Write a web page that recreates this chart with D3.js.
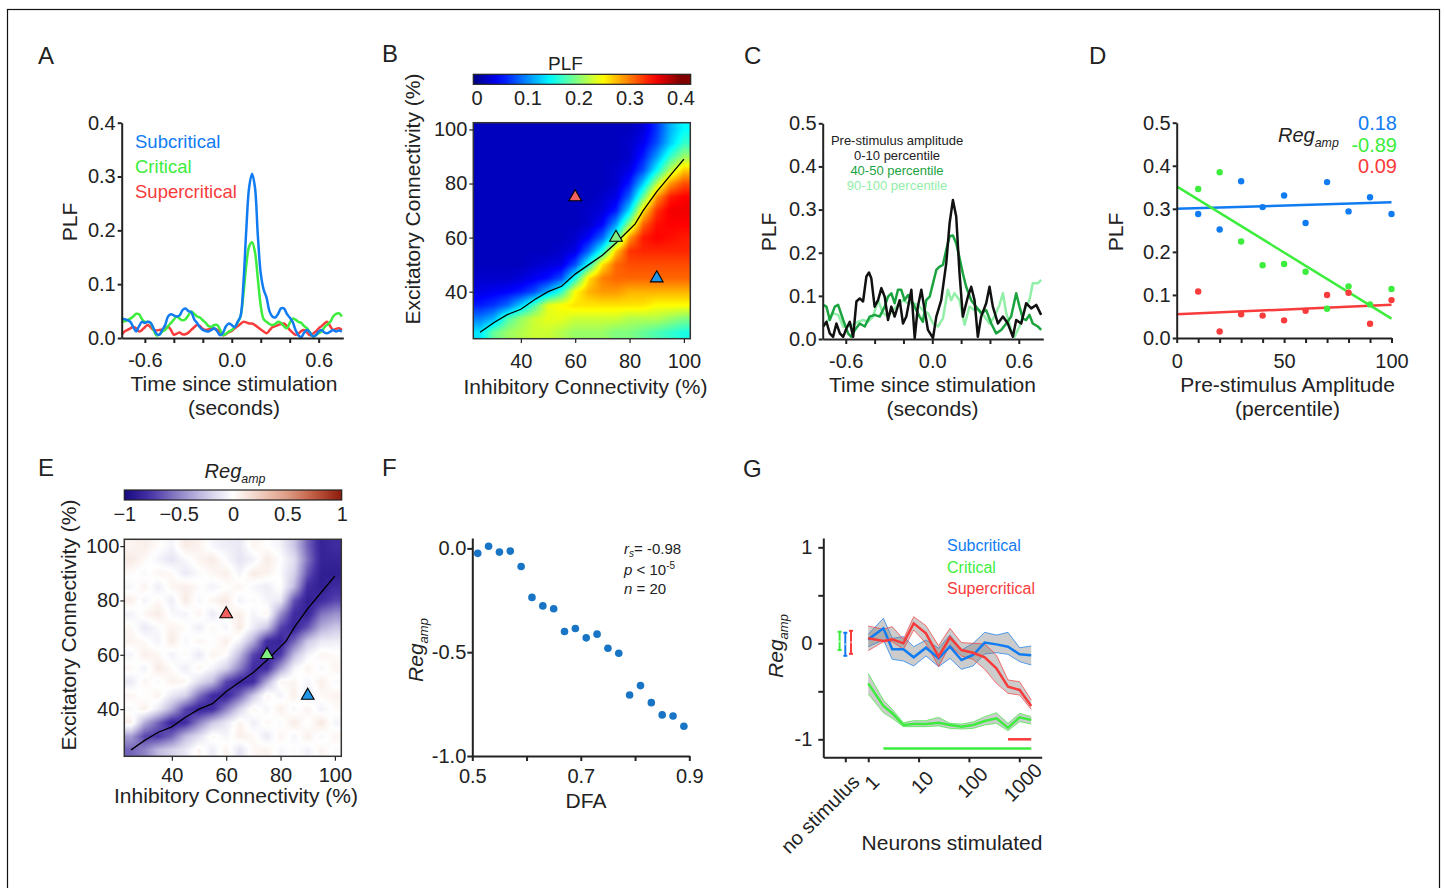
<!DOCTYPE html>
<html>
<head>
<meta charset="utf-8">
<script src="https://cdn.jsdelivr.net/npm/d3@7"></script>
<style>
  body { margin: 0; background: #fff; }
  svg text { font-family: "Liberation Sans", Arial, Helvetica, sans-serif; }
</style>
</head>
<body>
<script>
const FONT = '"Liberation Sans", Arial, Helvetica, sans-serif';
const INK = "#222";
const TICK = 20;

// ---------------- data ----------------
// A: PLF time courses per regime (sampled every 20 ms)
const timeA = d3.range(-0.76, 0.7601, 0.02);
const plfSubA = [
  0.036,0.035,0.033,0.030,0.020,0.012,0.022,0.030,0.028,0.030,
  0.028,0.018,0.008,0.006,0.015,0.024,0.040,0.044,0.042,0.040,
  0.042,0.052,0.055,0.050,0.048,0.035,0.028,0.020,0.015,0.013,
  0.012,0.015,0.018,0.012,0.005,0.010,0.022,0.027,0.024,0.020,
  0.030,0.040,0.100,0.200,0.280,0.305,0.280,0.190,0.120,0.090,
  0.075,0.050,0.040,0.038,0.045,0.055,0.055,0.045,0.038,0.030,
  0.015,0.005,0.002,0.010,0.015,0.010,0.003,0.005,0.012,0.015,
  0.010,0.009,0.012,0.015,0.012,0.014,0.012];
const plfCritA = [
  0.030,0.031,0.033,0.036,0.040,0.045,0.044,0.035,0.030,0.030,
  0.028,0.015,0.005,0.006,0.012,0.015,0.022,0.028,0.034,0.040,
  0.036,0.033,0.035,0.042,0.049,0.045,0.040,0.038,0.033,0.028,
  0.022,0.021,0.024,0.024,0.015,0.005,0.008,0.012,0.015,0.020,
  0.028,0.040,0.080,0.135,0.170,0.178,0.160,0.110,0.060,0.035,
  0.030,0.026,0.024,0.026,0.030,0.028,0.022,0.018,0.028,0.036,
  0.034,0.030,0.028,0.022,0.018,0.010,0.003,0.005,0.009,0.012,
  0.020,0.025,0.030,0.040,0.045,0.046,0.040];
const plfSuperA = [
  0.006,0.012,0.015,0.018,0.021,0.018,0.012,0.015,0.020,0.024,
  0.020,0.015,0.014,0.015,0.016,0.018,0.021,0.015,0.006,0.008,
  0.010,0.007,0.007,0.010,0.015,0.020,0.024,0.022,0.017,0.015,
  0.016,0.018,0.017,0.015,0.010,0.005,0.007,0.011,0.013,0.018,
  0.022,0.026,0.030,0.029,0.027,0.027,0.024,0.020,0.016,0.012,
  0.009,0.014,0.020,0.022,0.024,0.026,0.027,0.022,0.015,0.010,
  0.006,0.008,0.013,0.015,0.010,0.005,0.008,0.012,0.018,0.022,
  0.027,0.030,0.022,0.015,0.017,0.018,0.015];
const regimeNames = ["Subcritical", "Critical", "Supercritical"];
const regimeColors = ["#117cf2", "#3ded3d", "#f83b3b"];

// B and E: 16 x 16 grids, rows E = 100 ... 25, columns I = 25 ... 100
const connLevels = [25,30,35,40,45,50,55,60,65,70,75,80,85,90,95,100];
const plfGrid = [
  [.025,.025,.025,.025,.025,.025,.025,.025,.025,.025,.025,.025,.035,.07,.12,.15],
  [.025,.025,.025,.025,.025,.025,.025,.025,.025,.025,.025,.03,.045,.08,.13,.17],
  [.025,.025,.025,.025,.025,.025,.025,.025,.025,.025,.025,.03,.06,.11,.17,.21],
  [.025,.025,.025,.025,.025,.025,.025,.025,.025,.025,.03,.04,.08,.15,.22,.27],
  [.025,.025,.025,.025,.025,.025,.025,.025,.025,.025,.03,.06,.13,.22,.29,.32],
  [.025,.025,.025,.025,.025,.025,.025,.025,.025,.03,.04,.09,.19,.29,.34,.35],
  [.025,.025,.025,.025,.025,.025,.025,.025,.03,.035,.06,.14,.26,.33,.355,.355],
  [.025,.025,.025,.025,.025,.025,.025,.025,.03,.05,.11,.21,.31,.345,.35,.35],
  [.025,.025,.025,.025,.025,.025,.025,.03,.05,.09,.17,.29,.34,.35,.345,.34],
  [.025,.025,.025,.025,.025,.025,.03,.04,.09,.16,.27,.33,.335,.335,.335,.335],
  [.025,.025,.025,.025,.03,.035,.04,.08,.16,.26,.31,.32,.32,.32,.32,.32],
  [.03,.03,.03,.035,.045,.055,.08,.16,.26,.30,.31,.31,.31,.31,.31,.31],
  [.04,.045,.05,.06,.08,.12,.17,.25,.28,.29,.29,.28,.28,.28,.28,.28],
  [.06,.07,.09,.13,.18,.24,.25,.26,.26,.26,.26,.26,.26,.25,.25,.25],
  [.10,.12,.18,.21,.23,.24,.24,.23,.23,.23,.23,.22,.22,.22,.21,.20],
  [.14,.19,.21,.22,.23,.23,.22,.21,.21,.21,.20,.20,.19,.18,.17,.16]];
const regGrid = [
  [0.05,0.08,0.02,-0.05,0.1,0.06,-0.04,-0.08,-0.1,0.05,0,-0.05,-0.25,-0.6,-0.85,-0.8],
  [0.1,0.03,-0.05,-0.12,-0.03,0.05,0.1,-0.02,-0.12,-0.06,0.1,0,-0.15,-0.55,-0.85,-0.85],
  [0.02,-0.03,0.05,0.03,-0.1,-0.02,0.04,0.08,-0.05,0.1,0.06,-0.02,-0.2,-0.65,-0.88,-0.88],
  [-0.04,0.06,-0.08,0.05,0.08,0.02,-0.06,0,0.05,-0.04,-0.08,0.02,-0.3,-0.8,-0.88,-0.8],
  [0.08,-0.05,0.03,-0.08,0.1,-0.04,0.05,0.1,-0.06,0.03,-0.05,-0.1,-0.65,-0.88,-0.8,-0.7],
  [-0.06,0.04,0.1,-0.03,-0.05,0.06,-0.1,0.03,0.08,-0.05,0.05,-0.45,-0.8,-0.85,-0.55,-0.45],
  [0.03,-0.1,-0.02,0.06,0.02,-0.08,0.04,-0.05,0.1,-0.08,-0.25,-0.7,-0.85,-0.65,-0.35,-0.25],
  [0.06,0.02,-0.06,0.1,-0.04,0.05,-0.02,0.08,-0.06,-0.35,-0.8,-0.85,-0.6,-0.25,-0.1,-0.08],
  [-0.05,0.08,0.04,-0.06,0.03,-0.1,0.06,0,-0.3,-0.7,-0.85,-0.75,-0.3,-0.05,0.05,0.02],
  [0.04,-0.06,0.1,0.02,-0.08,0.05,-0.05,-0.2,-0.5,-0.8,-0.8,-0.4,-0.05,0.06,-0.04,0.05],
  [-0.1,0.05,-0.03,0.07,0.04,-0.15,-0.3,-0.7,-0.85,-0.8,-0.35,0.04,0.05,-0.05,0.08,-0.03],
  [0.05,-0.02,0.06,-0.1,-0.2,-0.55,-0.8,-0.85,-0.6,-0.25,0.05,-0.06,0.08,-0.1,0.03,0.06],
  [-0.03,0.08,-0.1,-0.35,-0.7,-0.85,-0.8,-0.5,-0.2,0.05,-0.05,0.08,-0.04,0.06,-0.06,0.02],
  [0.08,-0.35,-0.6,-0.85,-0.8,-0.5,-0.25,-0.1,0.06,-0.08,0.04,-0.03,0.1,-0.02,0.12,-0.05],
  [-0.4,-0.7,-0.75,-0.6,-0.3,-0.15,0.04,-0.05,0.08,0.03,-0.1,0.06,-0.05,0.08,-0.04,0.05],
  [-0.6,-0.5,-0.3,-0.2,-0.1,0.05,-0.08,0.06,-0.12,0.04,0.06,-0.04,0.02,-0.06,0.05,-0.02]];
// critical line [inhibitory, excitatory]
const critLine = [[25,25],[30,28.5],[35,31.5],[40,33.5],[45,37],[50,40],[55,42],[60,46.5],
  [65,50],[70,53.5],[75,58],[80,63],[82,65],[85,70],[90,77],[95,83],[100,89]];
const markerI = [60, 75, 90];
const markerE = [75, 60, 45];
const markerColors = ["#f26060", "#80ee80", "#1f96e8"];

// C: PLF by pre-stimulus amplitude bin, [time, PLF]
const plfLowC = [[-0.757,0.029],[-0.734,0.04],[-0.711,0.013],[-0.688,0.005],[-0.665,0.036],[-0.641,0.013],
  [-0.618,0.005],[-0.595,0.025],[-0.572,0.04],[-0.549,0.005],[-0.526,0.087],[-0.503,0.094],[-0.48,0.087],
  [-0.457,0.145],[-0.439,0.154],[-0.423,0.141],[-0.4,0.075],[-0.376,0.09],[-0.353,0.118],[-0.33,0.098],
  [-0.307,0.044],[-0.284,0.075],[-0.261,0.052],[-0.226,0.09],[-0.203,0.036],[-0.18,0.052],[-0.145,0.114],
  [-0.122,0.002],[-0.1,0.075],[-0.076,0.114],[-0.053,0.067],[-0.03,0.021],[0.005,0.002],[0.028,0.052],
  [0.062,0.09],[0.097,0.176],[0.12,0.268],[0.143,0.322],[0.166,0.284],[0.189,0.152],[0.212,0.052],
  [0.247,0.098],[0.27,0.121],[0.293,0.09],[0.316,0.005],[0.339,0.052],[0.374,0.083],[0.397,0.121],
  [0.42,0.075],[0.455,0.036],[0.49,0.052],[0.524,0.036],[0.559,0.005],[0.582,0.044],[0.617,0.036],
  [0.651,0.083],[0.686,0.071],[0.721,0.079],[0.755,0.056]];
const plfMidC = [[-0.757,0.079],[-0.734,0.075],[-0.711,0.044],[-0.676,0.075],[-0.653,0.079],[-0.618,0.044],
  [-0.584,0.013],[-0.561,0.005],[-0.537,0.021],[-0.503,0.036],[-0.468,0.029],[-0.434,0.052],[-0.4,0.056],
  [-0.365,0.052],[-0.33,0.075],[-0.307,0.098],[-0.284,0.106],[-0.261,0.083],[-0.238,0.114],[-0.215,0.114],
  [-0.192,0.09],[-0.168,0.102],[-0.134,0.083],[-0.111,0.067],[-0.088,0.052],[-0.065,0.04],[-0.042,0.09],
  [-0.018,0.098],[0.005,0.129],[0.028,0.16],[0.051,0.168],[0.074,0.172],[0.097,0.207],[0.12,0.238],
  [0.143,0.24],[0.166,0.222],[0.189,0.188],[0.212,0.152],[0.235,0.121],[0.27,0.09],[0.304,0.075],
  [0.339,0.06],[0.374,0.067],[0.409,0.036],[0.443,0.013],[0.478,0.021],[0.513,0.036],[0.547,0.052],
  [0.582,0.106],[0.605,0.075],[0.628,0.048],[0.651,0.044],[0.674,0.056],[0.697,0.036],[0.732,0.029],
  [0.755,0.021]];
const plfHighC = [[-0.757,0.029],[-0.722,0.044],[-0.688,0.06],[-0.653,0.056],[-0.618,0.029],[-0.584,0.029],
  [-0.549,0.033],[-0.515,0.04],[-0.48,0.044],[-0.445,0.04],[-0.411,0.052],[-0.376,0.09],[-0.342,0.06],
  [-0.307,0.052],[-0.273,0.067],[-0.238,0.079],[-0.203,0.09],[-0.168,0.083],[-0.134,0.083],[-0.1,0.079],
  [-0.065,0.067],[-0.03,0.06],[0.005,0.036],[0.039,0.029],[0.074,0.048],[0.108,0.114],[0.131,0.09],
  [0.154,0.106],[0.189,0.09],[0.224,0.033],[0.258,0.075],[0.293,0.067],[0.328,0.067],[0.362,0.052],
  [0.397,0.036],[0.432,0.052],[0.466,0.079],[0.49,0.106],[0.513,0.06],[0.547,0.021],[0.57,0.005],
  [0.605,0.029],[0.64,0.067],[0.674,0.09],[0.697,0.129],[0.732,0.129],[0.755,0.137]];
const binLabels = ["0-10 percentile", "40-50 percentile", "90-100 percentile"];
const binColors = ["#111111", "#1ba33f", "#92efa8"];

// D: PLF vs pre-stimulus amplitude
const pctD = [10,20,30,40,50,60,70,80,90,100];
const plfSubD = [0.288,0.252,0.364,0.304,0.331,0.267,0.362,0.294,0.327,0.288];
const plfCritD = [0.346,0.385,0.224,0.169,0.172,0.154,0.068,0.120,0.078,0.114];
const plfSuperD = [0.108,0.015,0.055,0.052,0.041,0.063,0.100,0.105,0.033,0.088];
const fitInterceptD = [0.300, 0.352, 0.055];
const fitSlopeD = [0.00015, -0.00307, 0.00022];
const regValuesD = ["0.18", "-0.89", "0.09"];

// F: Reg_amp vs DFA
const dfaF = [0.51,0.53,0.55,0.57,0.59,0.61,0.63,0.65,0.67,0.69,0.71,0.73,0.75,0.77,0.79,0.81,0.83,0.85,0.87,0.89];
const regF = [-0.024,0.010,-0.018,-0.013,-0.087,-0.236,-0.277,-0.291,-0.400,-0.386,
  -0.431,-0.413,-0.481,-0.505,-0.706,-0.661,-0.743,-0.802,-0.807,-0.857];

// G: Reg_amp vs number of stimulated neurons
const neuronsG = [1,2,3,5,8,14,25,42,71,121,206,351,597,1016,1728];
const regSubG = [0.041,0.156,-0.063,-0.063,-0.146,-0.046,-0.157,-0.035,-0.174,-0.122,0.007,-0.011,-0.035,-0.115,-0.125];
const regSubHiG = [0.094,0.26,0.052,0.069,-0.035,0.034,-0.052,0.086,-0.07,0,0.114,0.086,0.114,-0.046,-0.028];
const regSubLoG = [-0.035,0.034,-0.167,-0.184,-0.236,-0.132,-0.243,-0.157,-0.271,-0.236,-0.111,-0.098,-0.115,-0.191,-0.226];
const regCritG = [-0.417,-0.653,-0.729,-0.851,-0.841,-0.841,-0.827,-0.851,-0.868,-0.851,-0.81,-0.782,-0.879,-0.771,-0.799];
const regCritHiG = [-0.313,-0.591,-0.688,-0.827,-0.806,-0.806,-0.771,-0.834,-0.841,-0.82,-0.764,-0.723,-0.834,-0.729,-0.764];
const regCritLoG = [-0.528,-0.723,-0.782,-0.868,-0.868,-0.868,-0.861,-0.886,-0.893,-0.886,-0.851,-0.834,-0.91,-0.816,-0.841];
const regSuperG = [0.052,0.024,0.041,0,0.208,0.104,-0.139,0.062,-0.07,-0.098,-0.146,-0.261,-0.452,-0.486,-0.653];
const regSuperHiG = [0.18,0.146,0.173,0.041,0.277,0.184,-0.025,0.156,0.007,0,-0.007,-0.122,-0.382,-0.4,-0.591];
const regSuperLoG = [-0.077,0.017,0.017,-0.063,0.139,0,-0.243,-0.018,-0.132,-0.167,-0.271,-0.417,-0.521,-0.539,-0.688];
const noStimMean = [0.02, -0.01, 0.01];     // critical, subcritical, supercritical
const noStimLo = [-0.07, -0.13, -0.11];
const noStimHi = [0.12, 0.11, 0.13];
const noStimColors = ["#3ded3d", "#117cf2", "#f83b3b"];
const sigCritG = [2, 1728];
const sigSuperG = [597, 1728];

// ---------------- helpers ----------------
const svg = d3.select("body").append("svg")
  .attr("width", 1444).attr("height", 888);

svg.append("rect")
  .attr("x", 7.5).attr("y", 9.5).attr("width", 1432).attr("height", 900)
  .attr("fill", "none").attr("stroke", "#111").attr("stroke-width", 1.2);

function styleAxis(g, fs, sw) {
  g.attr("font-family", FONT).attr("font-size", fs).attr("color", INK);
  g.select(".domain").attr("stroke-width", sw);
  g.selectAll(".tick line").attr("stroke-width", sw);
  return g;
}

function label(txt, x, y, opts = {}) {
  const t = svg.append("text")
    .attr("x", x).attr("y", y)
    .attr("font-size", opts.size || 21)
    .attr("text-anchor", opts.anchor || "middle")
    .attr("fill", opts.color || INK)
    .text(txt);
  if (opts.rotate) t.attr("transform", `rotate(-90,${x},${y})`);
  if (opts.italic) t.attr("font-style", "italic");
  return t;
}

function regLabel(x, y, fs, rotate, anchor) {
  const t = svg.append("text")
    .attr("x", x).attr("y", y)
    .attr("font-size", fs).attr("font-style", "italic")
    .attr("text-anchor", anchor || "middle").attr("fill", INK);
  if (rotate) t.attr("transform", `rotate(-90,${x},${y})`);
  t.append("tspan").text("Reg");
  t.append("tspan").attr("font-size", fs * 0.62).attr("dy", fs * 0.26).text("amp");
  return t;
}

function jet(t) {
  t = Math.max(0, Math.min(1, t));
  const c = v => Math.round(255 * Math.max(0, Math.min(1, v)));
  return `rgb(${c(1.5 - Math.abs(4 * t - 3))},${c(1.5 - Math.abs(4 * t - 2))},${c(1.5 - Math.abs(4 * t - 1))})`;
}
const plfColor = v => jet(v / 0.4);
const regColor = d3.scaleLinear()
  .domain([-1, -0.75, -0.5, -0.25, 0, 0.25, 0.5, 0.75, 1])
  .range(["#170a80", "#4a35a8", "#8f83c6", "#cdc8e6", "#ffffff", "#f0cdbf", "#dd9c84", "#c05a40", "#8c1a0c"])
  .clamp(true);

function gridValue(grid, I, E) {
  const step = connLevels[1] - connLevels[0], n = connLevels.length - 1;
  const fc = Math.max(0, Math.min(n, (I - connLevels[0]) / step));
  const fr = Math.max(0, Math.min(n, (connLevels[n] - E) / step));
  const c0 = Math.floor(fc), r0 = Math.floor(fr);
  const c1 = Math.min(n, c0 + 1), r1 = Math.min(n, r0 + 1);
  const tc = fc - c0, tr = fr - r0;
  const top = grid[r0][c0] * (1 - tc) + grid[r0][c1] * tc;
  const bot = grid[r1][c0] * (1 - tc) + grid[r1][c1] * tc;
  return top * (1 - tr) + bot * tr;
}

function heatmap(grid, xs, ys, colorFn) {
  const x0 = xs.range()[0], y0 = ys.range()[1];
  const w = Math.round(xs.range()[1] - x0), h = Math.round(ys.range()[0] - y0);
  const canvas = document.createElement("canvas");
  canvas.width = w; canvas.height = h;
  const ctx = canvas.getContext("2d");
  const img = ctx.createImageData(w, h);
  for (let py = 0; py < h; py++) {
    for (let px = 0; px < w; px++) {
      const v = gridValue(grid, xs.invert(x0 + px + 0.5), ys.invert(y0 + py + 0.5));
      const c = d3.rgb(colorFn(v));
      const k = 4 * (py * w + px);
      img.data[k] = c.r; img.data[k + 1] = c.g; img.data[k + 2] = c.b; img.data[k + 3] = 255;
    }
  }
  ctx.putImageData(img, 0, 0);
  svg.append("image").attr("x", x0).attr("y", y0).attr("width", w).attr("height", h)
    .attr("preserveAspectRatio", "none").attr("href", canvas.toDataURL());
  svg.append("rect").attr("x", x0).attr("y", y0).attr("width", w).attr("height", h)
    .attr("fill", "none").attr("stroke", "#333").attr("stroke-width", 1.5);

  svg.append("path").datum(critLine)
    .attr("d", d3.line().x(d => xs(d[0])).y(d => ys(d[1])))
    .attr("fill", "none").attr("stroke", "#000").attr("stroke-width", 1.3);

  svg.selectAll(null).data(markerI).enter().append("path")
    .attr("d", d3.symbol(d3.symbolTriangle, 70))
    .attr("transform", (d, i) => `translate(${xs(d)},${ys(markerE[i])})`)
    .attr("fill", (d, i) => markerColors[i])
    .attr("stroke", "#000").attr("stroke-width", 1.1);
}

function colorbar(id, x0, x1, y0, h, domain, colorFn) {
  const grad = svg.append("defs").append("linearGradient").attr("id", id);
  d3.range(0, 1.0001, 0.05).forEach(f => {
    grad.append("stop").attr("offset", f)
      .attr("stop-color", colorFn(domain[0] + f * (domain[1] - domain[0])));
  });
  svg.append("rect").attr("x", x0).attr("y", y0).attr("width", x1 - x0).attr("height", h)
    .attr("fill", `url(#${id})`).attr("stroke", "#222").attr("stroke-width", 1.2);
}

// ---------------- panel letters ----------------
[["A", 38, 64], ["B", 382, 62], ["C", 744, 64], ["D", 1089, 64],
 ["E", 38, 476], ["F", 382, 476], ["G", 743, 477]].forEach(p => {
  label(p[0], p[1], p[2], { size: 24, anchor: "start" });
});

// ---------------- A ----------------
{
  const x = d3.scaleLinear().domain([-0.76, 0.77]).range([121.7, 343.3]);
  const y = d3.scaleLinear().domain([0, 0.4]).range([338, 122.7]);
  const series = [plfSubA, plfCritA, plfSuperA];
  const line = d3.line().x((d, i) => x(timeA[i])).y(d => y(d)).curve(d3.curveCatmullRom);
  [2, 1, 0].forEach(k => {
    svg.append("path").datum(series[k]).attr("d", line)
      .attr("fill", "none").attr("stroke", regimeColors[k]).attr("stroke-width", 2.5);
  });
  styleAxis(svg.append("g").attr("transform", "translate(0,338)")
    .call(d3.axisBottom(x).tickValues([-0.6, -0.4, -0.2, 0, 0.2, 0.4, 0.6])
      .tickFormat(d => [-0.6, 0, 0.6].some(v => Math.abs(v - d) < 1e-9) ? d.toFixed(1) : "")
      .tickSize(5).tickSizeOuter(0).tickPadding(9.5)), TICK, 2);
  styleAxis(svg.append("g").attr("transform", "translate(121.7,0)")
    .call(d3.axisLeft(y).tickValues([0, 0.1, 0.2, 0.3, 0.4]).tickFormat(d => d.toFixed(1))
      .tickSize(4).tickSizeOuter(0).tickPadding(2)), TICK, 2);
  regimeNames.forEach((n, i) => label(n, 135, 148 + 25 * i, { size: 18.5, anchor: "start", color: regimeColors[i] }));
  label("PLF", 77, 222, { rotate: true });
  label("Time since stimulation", 234, 391);
  label("(seconds)", 234, 415);
}

// ---------------- B ----------------
{
  const x = d3.scaleLinear().domain([22.5, 102.5]).range([473.3, 690.7]);
  const y = d3.scaleLinear().domain([22.5, 102.5]).range([339, 122.7]);
  heatmap(plfGrid, x, y, plfColor);
  const gx = styleAxis(svg.append("g").attr("transform", "translate(0,339)")
    .call(d3.axisBottom(x).tickValues([40, 60, 80, 100]).tickSize(4).tickSizeOuter(0).tickPadding(10.8)), TICK, 1.2);
  gx.select(".domain").remove();
  const gy = styleAxis(svg.append("g").attr("transform", "translate(473.3,0)")
    .call(d3.axisLeft(y).tickValues([40, 60, 80, 100]).tickSize(4).tickSizeOuter(0).tickPadding(2)), TICK, 1.2);
  gy.select(".domain").remove();
  colorbar("jetbar", 473.3, 690.7, 74.3, 10, [0, 0.42], plfColor);
  const cb = d3.scaleLinear().domain([0, 0.42]).range([476.5, 690.7]);
  styleAxis(svg.append("g").attr("transform", "translate(0,84.3)")
    .call(d3.axisBottom(cb).tickValues([0, 0.1, 0.2, 0.3, 0.4]).tickFormat(d => d === 0 ? "0" : d.toFixed(1))
      .tickSize(0).tickSizeOuter(0).tickPadding(6.5)), TICK, 0).select(".domain").remove();
  label("PLF", 565.5, 70, { size: 19 });
  label("Inhibitory Connectivity (%)", 585.5, 394);
  label("Excitatory Connectivity (%)", 420, 199, { rotate: true });
}

// ---------------- C ----------------
{
  const x = d3.scaleLinear().domain([-0.76, 0.77]).range([822.7, 1043.3]);
  const y = d3.scaleLinear().domain([0, 0.5]).range([339, 123.3]);
  const line = d3.line().x(d => x(d[0])).y(d => y(d[1]));
  const series = [plfLowC, plfMidC, plfHighC];
  [2, 1, 0].forEach(k => {
    svg.append("path").datum(series[k]).attr("d", line)
      .attr("fill", "none").attr("stroke", binColors[k]).attr("stroke-width", 2.5)
      .attr("stroke-linejoin", "round");
  });
  styleAxis(svg.append("g").attr("transform", "translate(0,339)")
    .call(d3.axisBottom(x).tickValues([-0.6, -0.4, -0.2, 0, 0.2, 0.4, 0.6])
      .tickFormat(d => [-0.6, 0, 0.6].some(v => Math.abs(v - d) < 1e-9) ? d.toFixed(1) : "")
      .tickSize(5).tickSizeOuter(0).tickPadding(9.8)), TICK, 2);
  styleAxis(svg.append("g").attr("transform", "translate(822.7,0)")
    .call(d3.axisLeft(y).tickValues([0, 0.1, 0.2, 0.3, 0.4, 0.5]).tickFormat(d => d.toFixed(1))
      .tickSize(4).tickSizeOuter(0).tickPadding(2)), TICK, 2);
  label("Pre-stimulus amplitude", 897, 145, { size: 13 });
  binLabels.forEach((b, i) => label(b, 897, 160 + 15 * i, { size: 13, color: i === 0 ? INK : binColors[i] }));
  label("PLF", 776, 232, { rotate: true });
  label("Time since stimulation", 932.5, 392);
  label("(seconds)", 932.5, 416);
}

// ---------------- D ----------------
{
  const x = d3.scaleLinear().domain([0, 100]).range([1176.7, 1391.5]);
  const y = d3.scaleLinear().domain([0, 0.5]).range([338, 122.7]);
  const series = [plfSubD, plfCritD, plfSuperD];
  [2, 0, 1].forEach(k => {
    svg.append("line")
      .attr("x1", x(0)).attr("y1", y(fitInterceptD[k]))
      .attr("x2", x(100)).attr("y2", y(fitInterceptD[k] + 100 * fitSlopeD[k]))
      .attr("stroke", regimeColors[k]).attr("stroke-width", 2.5);
  });
  [0, 1, 2].forEach(k => {
    svg.selectAll(null).data(series[k]).enter().append("circle")
      .attr("cx", (d, i) => x(pctD[i])).attr("cy", d => y(d)).attr("r", 3.2)
      .attr("fill", regimeColors[k]);
  });
  styleAxis(svg.append("g").attr("transform", "translate(0,338)")
    .call(d3.axisBottom(x).tickValues(d3.range(0, 101, 10))
      .tickFormat(d => d % 50 === 0 ? d : "").tickSize(5).tickSizeOuter(0).tickPadding(10.8)), TICK, 2);
  styleAxis(svg.append("g").attr("transform", "translate(1176.7,0)")
    .call(d3.axisLeft(y).tickValues([0, 0.1, 0.2, 0.3, 0.4, 0.5]).tickFormat(d => d.toFixed(1))
      .tickSize(4).tickSizeOuter(0).tickPadding(2)), TICK, 2);
  regLabel(1278, 141.5, 20, false, "start");
  regValuesD.forEach((v, i) => label(v, 1397, 130 + 21.7 * i, { size: 20, anchor: "end", color: regimeColors[i] }));
  label("PLF", 1123, 232, { rotate: true });
  label("Pre-stimulus Amplitude", 1287.5, 392);
  label("(percentile)", 1287.5, 416);
}

// ---------------- E ----------------
{
  const x = d3.scaleLinear().domain([22.5, 102.5]).range([124.3, 341.7]);
  const y = d3.scaleLinear().domain([22.5, 102.5]).range([756.7, 539.3]);
  heatmap(regGrid, x, y, regColor);
  const gx = styleAxis(svg.append("g").attr("transform", "translate(0,756.7)")
    .call(d3.axisBottom(x).tickValues([40, 60, 80, 100]).tickSize(4).tickSizeOuter(0).tickPadding(6.8)), TICK, 1.2);
  gx.select(".domain").remove();
  const gy = styleAxis(svg.append("g").attr("transform", "translate(124.3,0)")
    .call(d3.axisLeft(y).tickValues([40, 60, 80, 100]).tickSize(4).tickSizeOuter(0).tickPadding(1)), TICK, 1.2);
  gy.select(".domain").remove();
  colorbar("regbar", 124.3, 341.7, 490, 10, [-1, 1], regColor);
  const cb = d3.scaleLinear().domain([-1, 1]).range([124.3, 341.7]);
  styleAxis(svg.append("g").attr("transform", "translate(0,500)")
    .call(d3.axisBottom(cb).tickValues([-1, -0.5, 0, 0.5, 1]).tickFormat(d3.format("~g"))
      .tickSize(0).tickSizeOuter(0).tickPadding(7)), TICK, 0).select(".domain").remove();
  regLabel(235, 478, 20, false);
  label("Inhibitory Connectivity (%)", 236, 803);
  label("Excitatory Connectivity (%)", 76, 625, { rotate: true });
}

// ---------------- F ----------------
{
  const x = d3.scaleLinear().domain([0.5, 0.9]).range([472.3, 689.3]);
  const y = d3.scaleLinear().domain([-1, 0.05]).range([756, 538]);
  svg.selectAll(null).data(regF).enter().append("circle")
    .attr("cx", (d, i) => x(dfaF[i])).attr("cy", d => y(d)).attr("r", 3.8)
    .attr("fill", "#1874c4");
  styleAxis(svg.append("g").attr("transform", "translate(0,756)")
    .call(d3.axisBottom(x).tickValues([0.5, 0.6, 0.7, 0.8, 0.9])
      .tickFormat(d => [0.5, 0.7, 0.9].some(v => Math.abs(v - d) < 1e-9) ? d.toFixed(1) : "")
      .tickSize(5).tickSizeOuter(0).tickPadding(7.8)), TICK, 2);
  styleAxis(svg.append("g").attr("transform", "translate(472.3,0)")
    .call(d3.axisLeft(y).tickValues([-1, -0.5, 0]).tickFormat(d => d.toFixed(1))
      .tickSize(5).tickSizeOuter(0).tickPadding(1)), TICK, 2);
  const t1 = svg.append("text").attr("x", 624).attr("y", 554).attr("font-size", 15).attr("fill", INK);
  t1.append("tspan").attr("font-style", "italic").text("r");
  t1.append("tspan").attr("font-style", "italic").attr("font-size", 10).attr("dy", 3).text("s");
  t1.append("tspan").attr("dy", -3).text("= -0.98");
  const t2 = svg.append("text").attr("x", 624).attr("y", 575).attr("font-size", 15).attr("fill", INK);
  t2.append("tspan").attr("font-style", "italic").text("p");
  t2.append("tspan").text(" < 10");
  t2.append("tspan").attr("font-size", 10).attr("dy", -6).text("-5");
  const t3 = svg.append("text").attr("x", 624).attr("y", 594).attr("font-size", 15).attr("fill", INK);
  t3.append("tspan").attr("font-style", "italic").text("n");
  t3.append("tspan").text(" = 20");
  label("DFA", 586, 808);
  regLabel(423, 650, 21, true);
}

// ---------------- G ----------------
{
  const x = d3.scaleLog().domain([0.128, 2790]).range([823.3, 1041.7]);
  const y = d3.scaleLinear().domain([-1.1875, 1.097]).range([757.3, 538]);
  const noStim = 0.35;
  const band = d3.area().x((d, i) => x(neuronsG[i])).y0(d => y(d[0])).y1(d => y(d[1]));
  const line = d3.line().x((d, i) => x(neuronsG[i])).y(d => y(d));
  const groups = [
    { mean: regCritG, lo: regCritLoG, hi: regCritHiG, color: regimeColors[1] },
    { mean: regSubG, lo: regSubLoG, hi: regSubHiG, color: regimeColors[0] },
    { mean: regSuperG, lo: regSuperLoG, hi: regSuperHiG, color: regimeColors[2] }];
  groups.forEach(s => {
    svg.append("path").datum(s.lo.map((v, i) => [v, s.hi[i]])).attr("d", band)
      .attr("fill", "#808080").attr("fill-opacity", 0.4);
    [s.lo, s.hi].forEach(edge => {
      svg.append("path").datum(edge).attr("d", line)
        .attr("fill", "none").attr("stroke", s.color).attr("stroke-width", 1).attr("stroke-opacity", 0.7);
    });
  });
  groups.forEach(s => {
    svg.append("path").datum(s.mean).attr("d", line)
      .attr("fill", "none").attr("stroke", s.color).attr("stroke-width", 2.5);
  });
  // significance bars
  [[sigCritG, -1.095, regimeColors[1]], [sigSuperG, -1.0, regimeColors[2]]].forEach(b => {
    svg.append("line").attr("x1", x(b[0][0])).attr("x2", x(b[0][1]))
      .attr("y1", y(b[1])).attr("y2", y(b[1]))
      .attr("stroke", b[2]).attr("stroke-width", 2.5);
  });
  // no-stimulus error bars
  noStimMean.forEach((m, i) => {
    const cx = x(noStim) + (i - 1) * 5.7;
    const g = svg.append("g").attr("stroke", noStimColors[i]).attr("stroke-width", 2);
    g.append("line").attr("x1", cx).attr("x2", cx).attr("y1", y(noStimLo[i])).attr("y2", y(noStimHi[i]));
    g.append("line").attr("x1", cx - 2).attr("x2", cx + 2).attr("y1", y(noStimLo[i])).attr("y2", y(noStimLo[i]));
    g.append("line").attr("x1", cx - 2).attr("x2", cx + 2).attr("y1", y(noStimHi[i])).attr("y2", y(noStimHi[i]));
    svg.append("circle").attr("cx", cx).attr("cy", y(m)).attr("r", 1).attr("fill", "#fff").attr("fill-opacity", 0.6);
  });
  const gx = styleAxis(svg.append("g").attr("transform", "translate(0,757.3)")
    .call(d3.axisBottom(x).tickValues([noStim, 1, 10, 100, 1000])
      .tickFormat(d => d === noStim ? "no stimulus" : d).tickSize(5).tickSizeOuter(0)), TICK, 2);
  gx.selectAll(".tick text")
    .attr("y", 0).attr("dy", "0.35em")
    .attr("text-anchor", d => d === noStim ? "end" : "middle")
    .attr("transform", d => d === noStim ? "translate(10,21) rotate(-45)" : "translate(3,25) rotate(-45)");
  styleAxis(svg.append("g").attr("transform", "translate(823.3,0)")
    .call(d3.axisLeft(y).tickValues([-1, -0.5, 0, 0.5, 1]).tickFormat(d => Number.isInteger(d) ? d : "")
      .tickSize(5).tickSizeOuter(0).tickPadding(6)), TICK, 2);
  regimeNames.forEach((n, i) => label(n, 947, 551 + 21.5 * i, { size: 16, anchor: "start", color: regimeColors[i] }));
  regLabel(783, 646, 21, true);
  label("Neurons stimulated", 952, 850);
}
</script>
</body>
</html>
